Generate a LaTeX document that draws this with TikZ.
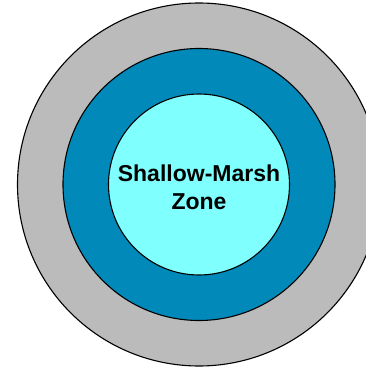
\documentclass[tikz,border=0pt]{standalone}
\usepackage{fontspec}
\setmainfont{Liberation Sans}
\usepackage{tikz}
\usetikzlibrary{positioning}
\usepackage{xcolor}
\definecolor{ringgray}{RGB}{187,187,187}
\definecolor{ringblue}{RGB}{0,137,185}
\definecolor{corecyan}{RGB}{128,255,255}

\begin{document}
\begin{tikzpicture}[
  zone/.style={draw=black, circle, line width=1.1pt, inner sep=0pt},
  zonelabel/.style={align=center, font=\fontsize{23}{27.5}\selectfont\bfseries}
]
\useasboundingbox (0,0) rectangle (366pt,368pt);
\node[zone, fill=ringgray, minimum size=363pt] (outer) at (199pt,183.5pt) {};
\node[zone, fill=ringblue, minimum size=272pt] (middle) at (outer.center) {};
\node[zone, fill=corecyan, minimum size=181pt] (inner) at (outer.center) {};
\node[zonelabel] (lbl) at ([yshift=-3pt]inner.center) {Shallow-Marsh\\Zone};
\end{tikzpicture}
\end{document}
